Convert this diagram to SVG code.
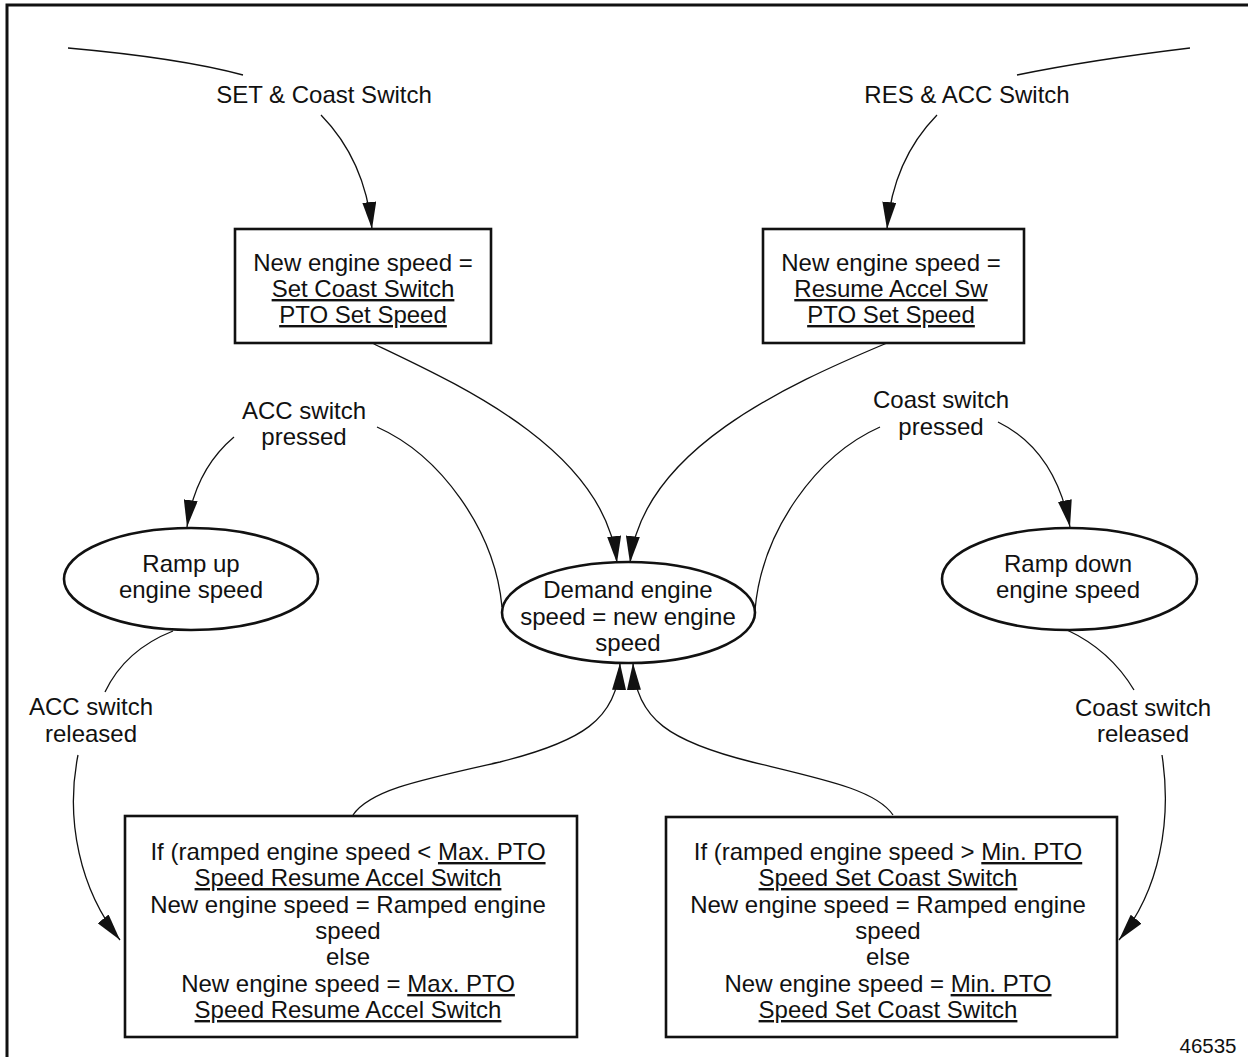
<svg xmlns="http://www.w3.org/2000/svg" width="1248" height="1057" viewBox="0 0 1248 1057">
<defs>
<style>
text{font-family:"Liberation Sans",Arial,sans-serif;font-size:24px;fill:#111;text-anchor:middle}
.u{text-decoration:underline}
.box{fill:#fff;stroke:#111;stroke-width:2.6}
.ell{fill:#fff;stroke:#111;stroke-width:2.6}
.c{fill:none;stroke:#111;stroke-width:1.3}
.a{marker-end:url(#arr)}
</style>
<marker id="arr" markerUnits="userSpaceOnUse" markerWidth="28" markerHeight="14" refX="27" refY="7" orient="auto">
<path d="M0,0 L27,7 L0,14 z" fill="#111"/>
</marker>
</defs>
<rect width="1248" height="1057" fill="#fff"/>
<path d="M7,1057 V5 H1248" fill="none" stroke="#111" stroke-width="3"/>

<g id="connectors">
<path class="c" d="M68,48 Q180,58 243,75"/>
<path class="c" d="M1017,75 Q1090,60 1190,48"/>
<path class="c a" d="M321,115 Q365,160 372,229"/>
<path class="c a" d="M937,115 Q893,160 887,229"/>
<path class="c a" d="M372,343 C460,385 605,450 617,563"/>
<path class="c a" d="M887,343 C787,385 642,450 630,563"/>
<path class="c" d="M377,427 C440,455 495,530 502,607"/>
<path class="c" d="M880,427 C817,455 762,530 755,610"/>
<path class="c a" d="M234,437 Q195,470 187,527"/>
<path class="c a" d="M998,422 Q1055,450 1070,527"/>
<path class="c" d="M173,631 Q125,650 105,692"/>
<path class="c a" d="M78,755 C65,820 80,890 120,940"/>
<path class="c" d="M1067,630 Q1110,650 1134,690"/>
<path class="c a" d="M1162,755 C1172,820 1160,890 1119,940"/>
<path class="c a" d="M353,815 C370,790 420,780 500,762 C580,742 618,720 620,663"/>
<path class="c a" d="M893,815 C876,790 826,780 752,762 C672,742 635,720 633,663"/>
</g>

<g id="label-set">
<text x="324" y="103">SET &amp; Coast Switch</text>
</g>
<g id="label-res">
<text x="967" y="103">RES &amp; ACC Switch</text>
</g>

<g id="box-set">
<rect class="box" x="235" y="229" width="256" height="114"/>
<text x="363" y="271">New engine speed =</text>
<text x="363" y="297" class="u">Set Coast Switch</text>
<text x="363" y="323" class="u">PTO Set Speed</text>
</g>
<g id="box-res">
<rect class="box" x="763" y="229" width="261" height="114"/>
<text x="891" y="271">New engine speed =</text>
<text x="891" y="297" class="u">Resume Accel Sw</text>
<text x="891" y="323" class="u">PTO Set Speed</text>
</g>

<g id="label-acc-pressed">
<text x="304" y="419">ACC switch</text>
<text x="304" y="445">pressed</text>
</g>
<g id="label-coast-pressed">
<text x="941" y="408">Coast switch</text>
<text x="941" y="435">pressed</text>
</g>

<g id="ramp-up">
<ellipse class="ell" cx="191" cy="579" rx="127" ry="51"/>
<text x="191" y="572">Ramp up</text>
<text x="191" y="598">engine speed</text>
</g>
<g id="demand">
<ellipse class="ell" cx="628.5" cy="612.5" rx="126.5" ry="50.5"/>
<text x="628" y="598">Demand engine</text>
<text x="628" y="625">speed = new engine</text>
<text x="628" y="651">speed</text>
</g>
<g id="ramp-down">
<ellipse class="ell" cx="1069.5" cy="579" rx="127.5" ry="51"/>
<text x="1068" y="572">Ramp down</text>
<text x="1068" y="598">engine speed</text>
</g>

<g id="label-acc-released">
<text x="91" y="715">ACC switch</text>
<text x="91" y="742">released</text>
</g>
<g id="label-coast-released">
<text x="1143" y="716">Coast switch</text>
<text x="1143" y="742">released</text>
</g>

<g id="box-max">
<rect class="box" x="125" y="816" width="452" height="221"/>
<text x="348" y="860">If (ramped engine speed &lt; <tspan class="u">Max. PTO</tspan></text>
<text x="348" y="886" class="u">Speed Resume Accel Switch</text>
<text x="348" y="913">New engine speed = Ramped engine</text>
<text x="348" y="939">speed</text>
<text x="348" y="965">else</text>
<text x="348" y="992">New engine speed = <tspan class="u">Max. PTO</tspan></text>
<text x="348" y="1018" class="u">Speed Resume Accel Switch</text>
</g>
<g id="box-min">
<rect class="box" x="666" y="817" width="451" height="220"/>
<text x="888" y="860">If (ramped engine speed &gt; <tspan class="u">Min. PTO</tspan></text>
<text x="888" y="886" class="u">Speed Set Coast Switch</text>
<text x="888" y="913">New engine speed = Ramped engine</text>
<text x="888" y="939">speed</text>
<text x="888" y="965">else</text>
<text x="888" y="992">New engine speed = <tspan class="u">Min. PTO</tspan></text>
<text x="888" y="1018" class="u">Speed Set Coast Switch</text>
</g>

<g id="fig-number">
<text x="1208" y="1053" style="font-size:20.5px">46535</text>
</g>
</svg>
